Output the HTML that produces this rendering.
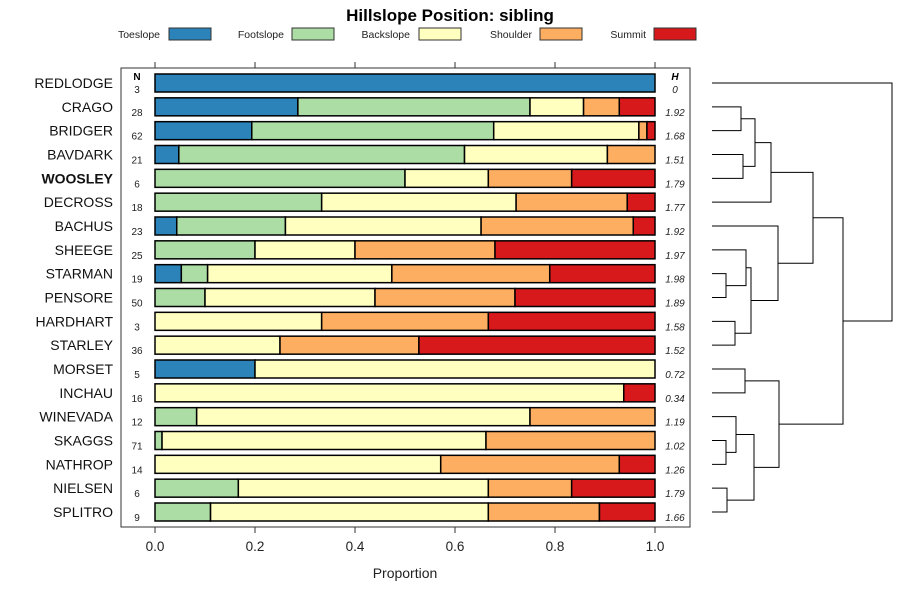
<!DOCTYPE html>
<html><head><meta charset="utf-8"><style>
body{margin:0;background:#fff;font-family:"Liberation Sans",sans-serif}
svg text{font-family:"Liberation Sans",sans-serif}
</style></head><body>
<svg id="c" width="900" height="600" xmlns="http://www.w3.org/2000/svg"></svg>
<script>
const series=["Toeslope","Footslope","Backslope","Shoulder","Summit"];
const colors=["#2b83ba","#abdda4","#ffffbf","#fdae61","#d7191c"];
const soils=["REDLODGE","CRAGO","BRIDGER","BAVDARK","WOOSLEY","DECROSS","BACHUS","SHEEGE","STARMAN","PENSORE","HARDHART","STARLEY","MORSET","INCHAU","WINEVADA","SKAGGS","NATHROP","NIELSEN","SPLITRO"];
const nVals=[3,28,62,21,6,18,23,25,19,50,3,36,5,16,12,71,14,6,9];
const hVals=["0","1.92","1.68","1.51","1.79","1.77","1.92","1.97","1.98","1.89","1.58","1.52","0.72","0.34","1.19","1.02","1.26","1.79","1.66"];
const toe=[3,8,12,1,0,0,1,0,1,0,0,0,1,0,0,0,0,0,0];
const foot=[0,13,30,12,3,6,5,5,1,5,0,0,0,0,1,1,0,1,1];
const back=[0,3,18,6,1,7,9,5,7,17,1,9,4,15,8,46,8,3,5];
const shoulder=[0,2,1,2,1,4,7,7,6,14,1,10,0,0,3,24,5,1,2];
const summit=[0,2,1,0,1,1,1,8,4,14,1,17,0,1,0,0,1,1,1];
const ticks=[0,0.2,0.4,0.6,0.8,1.0];
const tickLabels=["0.0","0.2","0.4","0.6","0.8","1.0"];
// dendrogram merges: [a, b, height]; leaves are 0..18, merges numbered 19+
const merges=[[15,16,14],[17,18,15],[7+1,9,14],[10,11,23],[1,2,29],[3,4,31],[12,13,33],[14,19,24],[23,24,43],[7,21,34],[25,5,59],[20,22,42],[28,22+0,0],[26,29,39],[30,27,66],[31,32,131],[33,34,101],[0,35,180]];
const NS="http://www.w3.org/2000/svg";
const svg=document.getElementById('c');
function el(t,a,p){const e=document.createElementNS(NS,t);for(const k in a)e.setAttribute(k,a[k]);(p||svg).appendChild(e);return e;}
const x0=155,x1=655,y0=83,dy=(512-83)/18,bh=18;
const xs=v=>x0+(x1-x0)*v;
const ys=i=>y0+dy*i;
// title
let t=el('text',{x:450,y:21,'text-anchor':'middle','font-size':17,'font-weight':'bold'});t.textContent="Hillslope Position: sibling";

const legX=[[160,169],[284,292],[410,419],[532,540],[646,654]];
series.forEach((s,i)=>{
 const g=el('g',{});
 
 
 const tx=el('text',{x:legX[i][0],y:38,'text-anchor':'end','font-size':10.5,fill:'#222'},g);tx.textContent=s;
 el('rect',{x:legX[i][1],y:28,width:42,height:12,fill:colors[i],stroke:'#333','stroke-width':1},g);
});
// panel
const panel=el('rect',{x:121,y:68,width:569,height:459,fill:'none',stroke:'#333','stroke-width':1});

ticks.forEach((v,i)=>{
 el('line',{x1:xs(v),x2:xs(v),y1:62,y2:68,stroke:'#333'});
 el('line',{x1:xs(v),x2:xs(v),y1:527,y2:533,stroke:'#333'});
 const l=el('text',{x:xs(v),y:551,'text-anchor':'middle','font-size':13.5,fill:'#222'});l.textContent=tickLabels[i];
 
});
const xt=el('text',{x:405,y:578,'text-anchor':'middle','font-size':14,fill:'#222'});xt.textContent="Proportion";

let nh=el('text',{x:137,y:80,'text-anchor':'middle','font-size':10,'font-weight':'bold'});nh.textContent="N";
let hh=el('text',{x:675,y:80,'text-anchor':'middle','font-size':10,'font-weight':'bold','font-style':'italic'});hh.textContent="H";
const data=[toe,foot,back,shoulder,summit];
soils.forEach((s,i)=>{
 const y=ys(i);
 const lb=el('text',{x:113,y:y+5,'text-anchor':'end','font-size':14,fill:'#111','font-weight':s==='WOOSLEY'?'bold':'normal'});lb.textContent=s;
 
 const nt=el('text',{x:137,y:y+(i===0?10:9),'text-anchor':'middle','font-size':10,fill:'#222'});nt.textContent=nVals[i];
 
 const ht=el('text',{x:675,y:y+(i===0?10:9),'text-anchor':'middle','font-size':10,'font-style':'italic',fill:'#222'});ht.textContent=hVals[i];
 
 const tot=data.reduce((a,d)=>a+d[i],0);let cum=0;
 data.forEach((d,k)=>{
  if(d[i]<=0)return;
  const r=el('rect',{x:xs(cum/tot),y:y-bh/2,width:xs((cum+d[i])/tot)-xs(cum/tot),height:bh,fill:colors[k],stroke:'#000','stroke-width':1.5});
  
  
  cum+=d[i];
 });
});
// dendrogram (explicit tree)
const leafX=712;
const tree=[0,[[[[[1,2,29],[3,4,31],43],5,59],[6,[[7,[8,9,14],34],[10,11,23],39],66],101],[[12,13,33],[[14,[15,16,14],24],[17,18,15],42],67],131],180];
const dg=el('g',{});
function draw(n){
 if(typeof n==='number')return {x:leafX,y:ys(n)};
 const a=draw(n[0]),b=draw(n[1]),hx=leafX+n[2];
 el('path',{d:`M${a.x},${a.y}H${hx}V${b.y}H${b.x}`,fill:'none',stroke:'#000','stroke-width':1},dg);
 return {x:hx,y:(a.y+b.y)/2};
}
draw(tree);
</script>
</body></html>
